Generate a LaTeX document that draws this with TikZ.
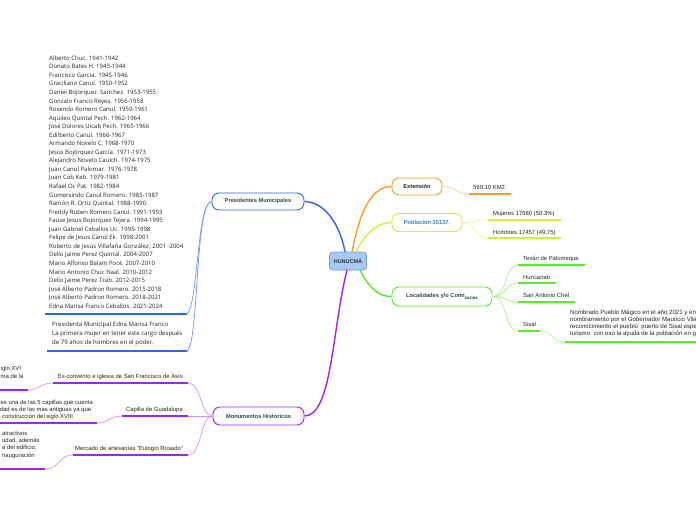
\documentclass[tikz,border=0pt]{standalone}
\usepackage{fontspec}
\setmainfont{Liberation Sans}
\newfontfamily\listfont{Open Sans}
\usetikzlibrary{positioning,calc}

\definecolor{hubfill}{HTML}{A8C9F6}
\definecolor{hubline}{HTML}{6D9EEB}
\definecolor{presblue}{HTML}{2F66EE}
\definecolor{presthin}{HTML}{6E98F0}
\definecolor{extorange}{HTML}{FF9A22}
\definecolor{extthin}{HTML}{FFC98A}
\definecolor{pobyellow}{HTML}{D2F03A}
\definecolor{pobthin}{HTML}{E6F79A}
\definecolor{locgreen}{HTML}{5CE82C}
\definecolor{locthin}{HTML}{A9F28E}
\definecolor{monpurple}{HTML}{A024F0}
\definecolor{monthin}{HTML}{D493FF}
\definecolor{topictext}{HTML}{2E4A48}
\definecolor{pobtext}{HTML}{2E89C6}

\tikzset{
  topic/.style={draw, line width=0.9pt, rounded corners=7pt, fill=white, minimum height=17pt,
    inner sep=0pt, font=\fontsize{5.7}{6.5}\selectfont\bfseries, text=topictext},
  leaf/.style={inner sep=0pt, anchor=base west, font=\fontsize{5.9}{7}\selectfont, text=black!85},
  branch/.style={line width=1.4pt},
  twig/.style={line width=0.7pt},
  uline/.style={line width=1.6pt},
}

\begin{document}
\begin{tikzpicture}[x=1pt, y=-1pt]
  \useasboundingbox (0,0) rectangle (696,520);
  \fill[white] (0,0) rectangle (696,520);
  \clip (0,0) rectangle (696,520);

  % Central topic
  \node[draw=hubline, fill=hubfill, rounded corners=3pt, line width=0.7pt, minimum width=37pt,
        minimum height=18pt, inner sep=0pt, font=\fontsize{5.5}{6}\selectfont\bfseries, text=black!80] (hub) at (348,261) {HUNUCMÁ};

  % Main topics
  \node[topic, draw=presblue, minimum width=92pt] (pres) at (258,201.5) {Presidentes Municipales};
  \node[topic, draw=extorange, minimum width=50pt, text=black!85] (ext) at (417,186.5) {Extensión};
  \node[topic, draw=pobyellow, minimum width=70pt, minimum height=18pt, text=pobtext] (pob) at (427,222.5) {Población 35137.};
  \node[topic, draw=locgreen, minimum width=100pt, minimum height=19pt] (loc) at (442,296.5)
       {Localidades y/o Comi\raisebox{-1.6pt}{\fontsize{4.6}{5}\selectfont sarias}};
  \node[topic, draw=monpurple, minimum width=91pt, minimum height=18pt] (mon) at (258.5,416) {Monumentos Historicos};

  % Branches from the centre
  \coordinate (hub-b) at (345,252);
  \coordinate (hub-o) at (352,252);
  \coordinate (hub-y) at (356,252);
  \coordinate (hub-g) at (360,270);
  \coordinate (hub-p) at (347,270);
  \draw[branch, presblue] (hub-b) .. controls (339,220) and (322,201.5) .. (pres.east);
  \draw[branch, extorange] (hub-o) .. controls (360,210) and (372,186.5) .. (ext.west);
  \draw[branch, pobyellow] (hub-y) .. controls (366,232) and (378,222.5) .. (pob.west);
  \draw[branch, locgreen] (hub-g) .. controls (370,290) and (380,296.5) .. (loc.west);
  \draw[branch, monpurple] (hub-p) .. controls (332,330) and (332,416) .. (mon.east);

  % Presidentes: list of names
  \node[inner sep=0pt, anchor=north west, align=left, font=\listfont\fontsize{6}{8.55}\selectfont, text=black!85] (plist) at (49,55.5) {%
    Alberto Chuc. 1941-1942\\
    Donato Bates H. 1943-1944\\
    Francisco Garcia. 1945-1946\\
    Graciliano Canul. 1950-1952\\
    Daniel Bojorquez\ \ Sanchez. 1953-1955\\
    Gonzalo Franco Reyes. 1956-1958\\
    Rosendo Romero Canul. 1959-1961\\
    Aquileo Quintal Pech. 1962-1964\\
    José Dolores Uicab Pech. 1965-1966\\
    Edilberto Canul. 1966-1967\\
    Armando Novelo C. 1968-1970\\
    Jesús Bojórquez García. 1971-1973\\
    Alejandro Novelo Cauich. 1974-1975\\
    Juan Canul Palomar. 1976-1978\\
    Juan Cob Keb. 1979-1981\\
    Rafael Oc Pat. 1982-1984\\
    Gumersindo Canul Romero. 1985-1987\\
    Ramón R. Ortiz Quintal. 1988-1990\\
    Freddy Ruben Romero Canul. 1991-1993\\
    Fause Jesus Bojorquez Tejera. 1994-1995\\
    Juan Gabriel Ceballos Uc. 1995-1998\\
    Felipe de Jesus Canul Ek. 1998-2001\\
    Roberto de Jesús Villafaña González. 2001 -2004\\
    Delio Jaime Perez Quintal. 2004-2007\\
    Mario Alfonso Balam Poot. 2007-2010\\
    Mario Antonio Chuc Naal. 2010-2012\\
    Delio Jaime Perez Tzab. 2012-2015\\
    José Alberto Padron Romero. 2015-2018\\
    José Alberto Padron Romero. 2018-2021\\
    Edna Marisa Franco Ceballos. 2021-2024};
  \coordinate (pl1-a) at (45,314);
  \coordinate (pl1-b) at (187,314);
  \draw[uline, presblue] (pl1-a) -- (pl1-b);
  \draw[twig, presthin] (pres.west) .. controls (197,201.5) and (198,306) .. (pl1-b);

  % Presidentes: note on the first woman
  \node[inner sep=0pt, anchor=north west, align=left, font=\listfont\fontsize{6.05}{9}\selectfont, text=black!85] (pnote) at (52,321.5) {%
    Presidenta Municipal Edna Marisa Franco\\
    La primera mujer en tener este cargo después\\
    de 79 años de hombres en el poder.};
  \coordinate (pl2-a) at (47,351);
  \coordinate (pl2-b) at (187,351);
  \draw[uline, presblue] (pl2-a) -- (pl2-b);
  \draw[twig, presthin] (pres.west) .. controls (195,201.5) and (199,344) .. (pl2-b);

  % Extension
  \node[leaf] (km) at (473,189) {599.10 KM2};
  \coordinate (km-a) at (469,194);
  \coordinate (km-b) at (511,194);
  \draw[uline, extorange] (km-a) -- (km-b);
  \draw[twig, extthin] (ext.east) .. controls (456,186.5) and (456,194) .. (km-a);

  % Population
  \node[leaf] (muj) at (493,215) {Mujeres 17680 (50.3\%)};
  \node[leaf] (hom) at (493,234) {Hombres 17457 (49,75)};
  \coordinate (muj-a) at (488,220);
  \coordinate (muj-b) at (561,220);
  \coordinate (hom-a) at (488,238);
  \coordinate (hom-b) at (561,238);
  \draw[uline, pobyellow] (muj-a) -- (muj-b);
  \draw[uline, pobyellow] (hom-a) -- (hom-b);
  \draw[twig, pobthin] (pob.east) .. controls (478,222.5) and (474,220) .. (muj-a);
  \draw[twig, pobthin] (pob.east) .. controls (476,222.5) and (474,238) .. (hom-a);

  % Localities
  \node[leaf] (tex) at (523,260) {Texán de Palomeque};
  \node[leaf] (hun) at (523,279) {Huncanab};
  \node[leaf] (che) at (523,297.5) {San Antonio Chel};
  \node[leaf] (sis) at (523,326) {Sisal};
  \coordinate (tex-a) at (518,265);
  \coordinate (tex-b) at (585,265);
  \coordinate (hun-a) at (518,283);
  \coordinate (hun-b) at (556,283);
  \coordinate (che-a) at (518,302);
  \coordinate (che-b) at (575,302);
  \coordinate (sis-a) at (518,331);
  \coordinate (sis-b) at (540,331);
  \foreach \u in {tex,hun,che,sis}
    \draw[uline, locgreen] (\u-a) -- (\u-b);
  \draw[twig, locthin] (loc.east) .. controls (508,296.5) and (504,265) .. (tex-a);
  \draw[twig, locthin] (loc.east) .. controls (508,296.5) and (504,283) .. (hun-a);
  \draw[twig, locthin] (loc.east) .. controls (506,296.5) and (506,302) .. (che-a);
  \draw[twig, locthin] (loc.east) .. controls (508,296.5) and (504,331) .. (sis-a);

  % Sisal note
  \node[inner sep=0pt, anchor=north west, align=left, font=\fontsize{6.1}{7}\selectfont, text=black!85] (sisnote) at (570,310.3) {%
    Nombrado Pueblo Mágico en el año 2021 y ent\\
    nombramiento por el Gobernador Mauricio Vila\\
    reconocimiento el pueblo\ \ puerto de Sisal esper\\
    turismo\ \ con eso la ayuda de la población en ge};
  \coordinate (sisn-a) at (565,342);
  \coordinate (sisn-b) at (700,342);
  \draw[uline, locgreen] (sisn-a) -- (sisn-b);
  \draw[twig, locthin] (sis-b) .. controls (555,331) and (550,342) .. (sisn-a);

  % Monuments
  \node[leaf, anchor=base east] (exc) at (183,378) {Ex-convento e iglesia de San Francisco de Asís};
  \node[leaf, anchor=base east] (cap) at (183,411) {Capilla de Guadalupe};
  \node[leaf, anchor=base east] (mer) at (183,450) {Mercado de artesanías "Eulogio Rosado"};
  \coordinate (exc-a) at (53,383);
  \coordinate (exc-b) at (188,383);
  \coordinate (cap-a) at (122,416);
  \coordinate (cap-b) at (188,416);
  \coordinate (mer-a) at (73,455);
  \coordinate (mer-b) at (188,455);
  \foreach \u in {exc,cap,mer}
    \draw[uline, monpurple] (\u-a) -- (\u-b);
  \draw[twig, monthin] (mon.west) .. controls (200,416) and (202,383) .. (exc-b);
  \draw[twig, monthin] (mon.west) -- (cap-b);
  \draw[twig, monthin] (mon.west) .. controls (200,416) and (202,455) .. (mer-b);

  % Monument notes, cut at the left edge
  \node[leaf] (excn1) at (0.5,370) {iglo XVI};
  \node[leaf] (excn2) at (0.5,378) {ma de la};
  \node[leaf] (capn1) at (0.5,404) {es una de las 5 capillas que cuenta};
  \node[leaf] (capn2) at (-0.3,411) {dad es de las mas antiguas ya que};
  \node[leaf] (capn3) at (2,418.5) {construcción del siglo XVIII};
  \node[leaf] (mern1) at (2,435.5) {atractivos};
  \node[leaf] (mern2) at (2,442.5) {udad, además};
  \node[leaf] (mern3) at (2,449.5) {a del edificio,};
  \node[leaf] (mern4) at (2,457) {nauguración};
  \coordinate (excn-a) at (-5,390);
  \coordinate (excn-b) at (28,390);
  \coordinate (capn-a) at (-5,423);
  \coordinate (capn-b) at (97,423);
  \coordinate (mern-a) at (-5,469);
  \coordinate (mern-b) at (45,469);
  \foreach \u in {excn,capn,mern}
    \draw[uline, monpurple] (\u-a) -- (\u-b);
  \draw[twig, monthin] (exc-a) .. controls (40,383) and (40,390) .. (excn-b);
  \draw[twig, monthin] (cap-a) .. controls (108,416) and (110,423) .. (capn-b);
  \draw[twig, monthin] (mer-a) .. controls (58,455) and (60,469) .. (mern-b);
\end{tikzpicture}
\end{document}
